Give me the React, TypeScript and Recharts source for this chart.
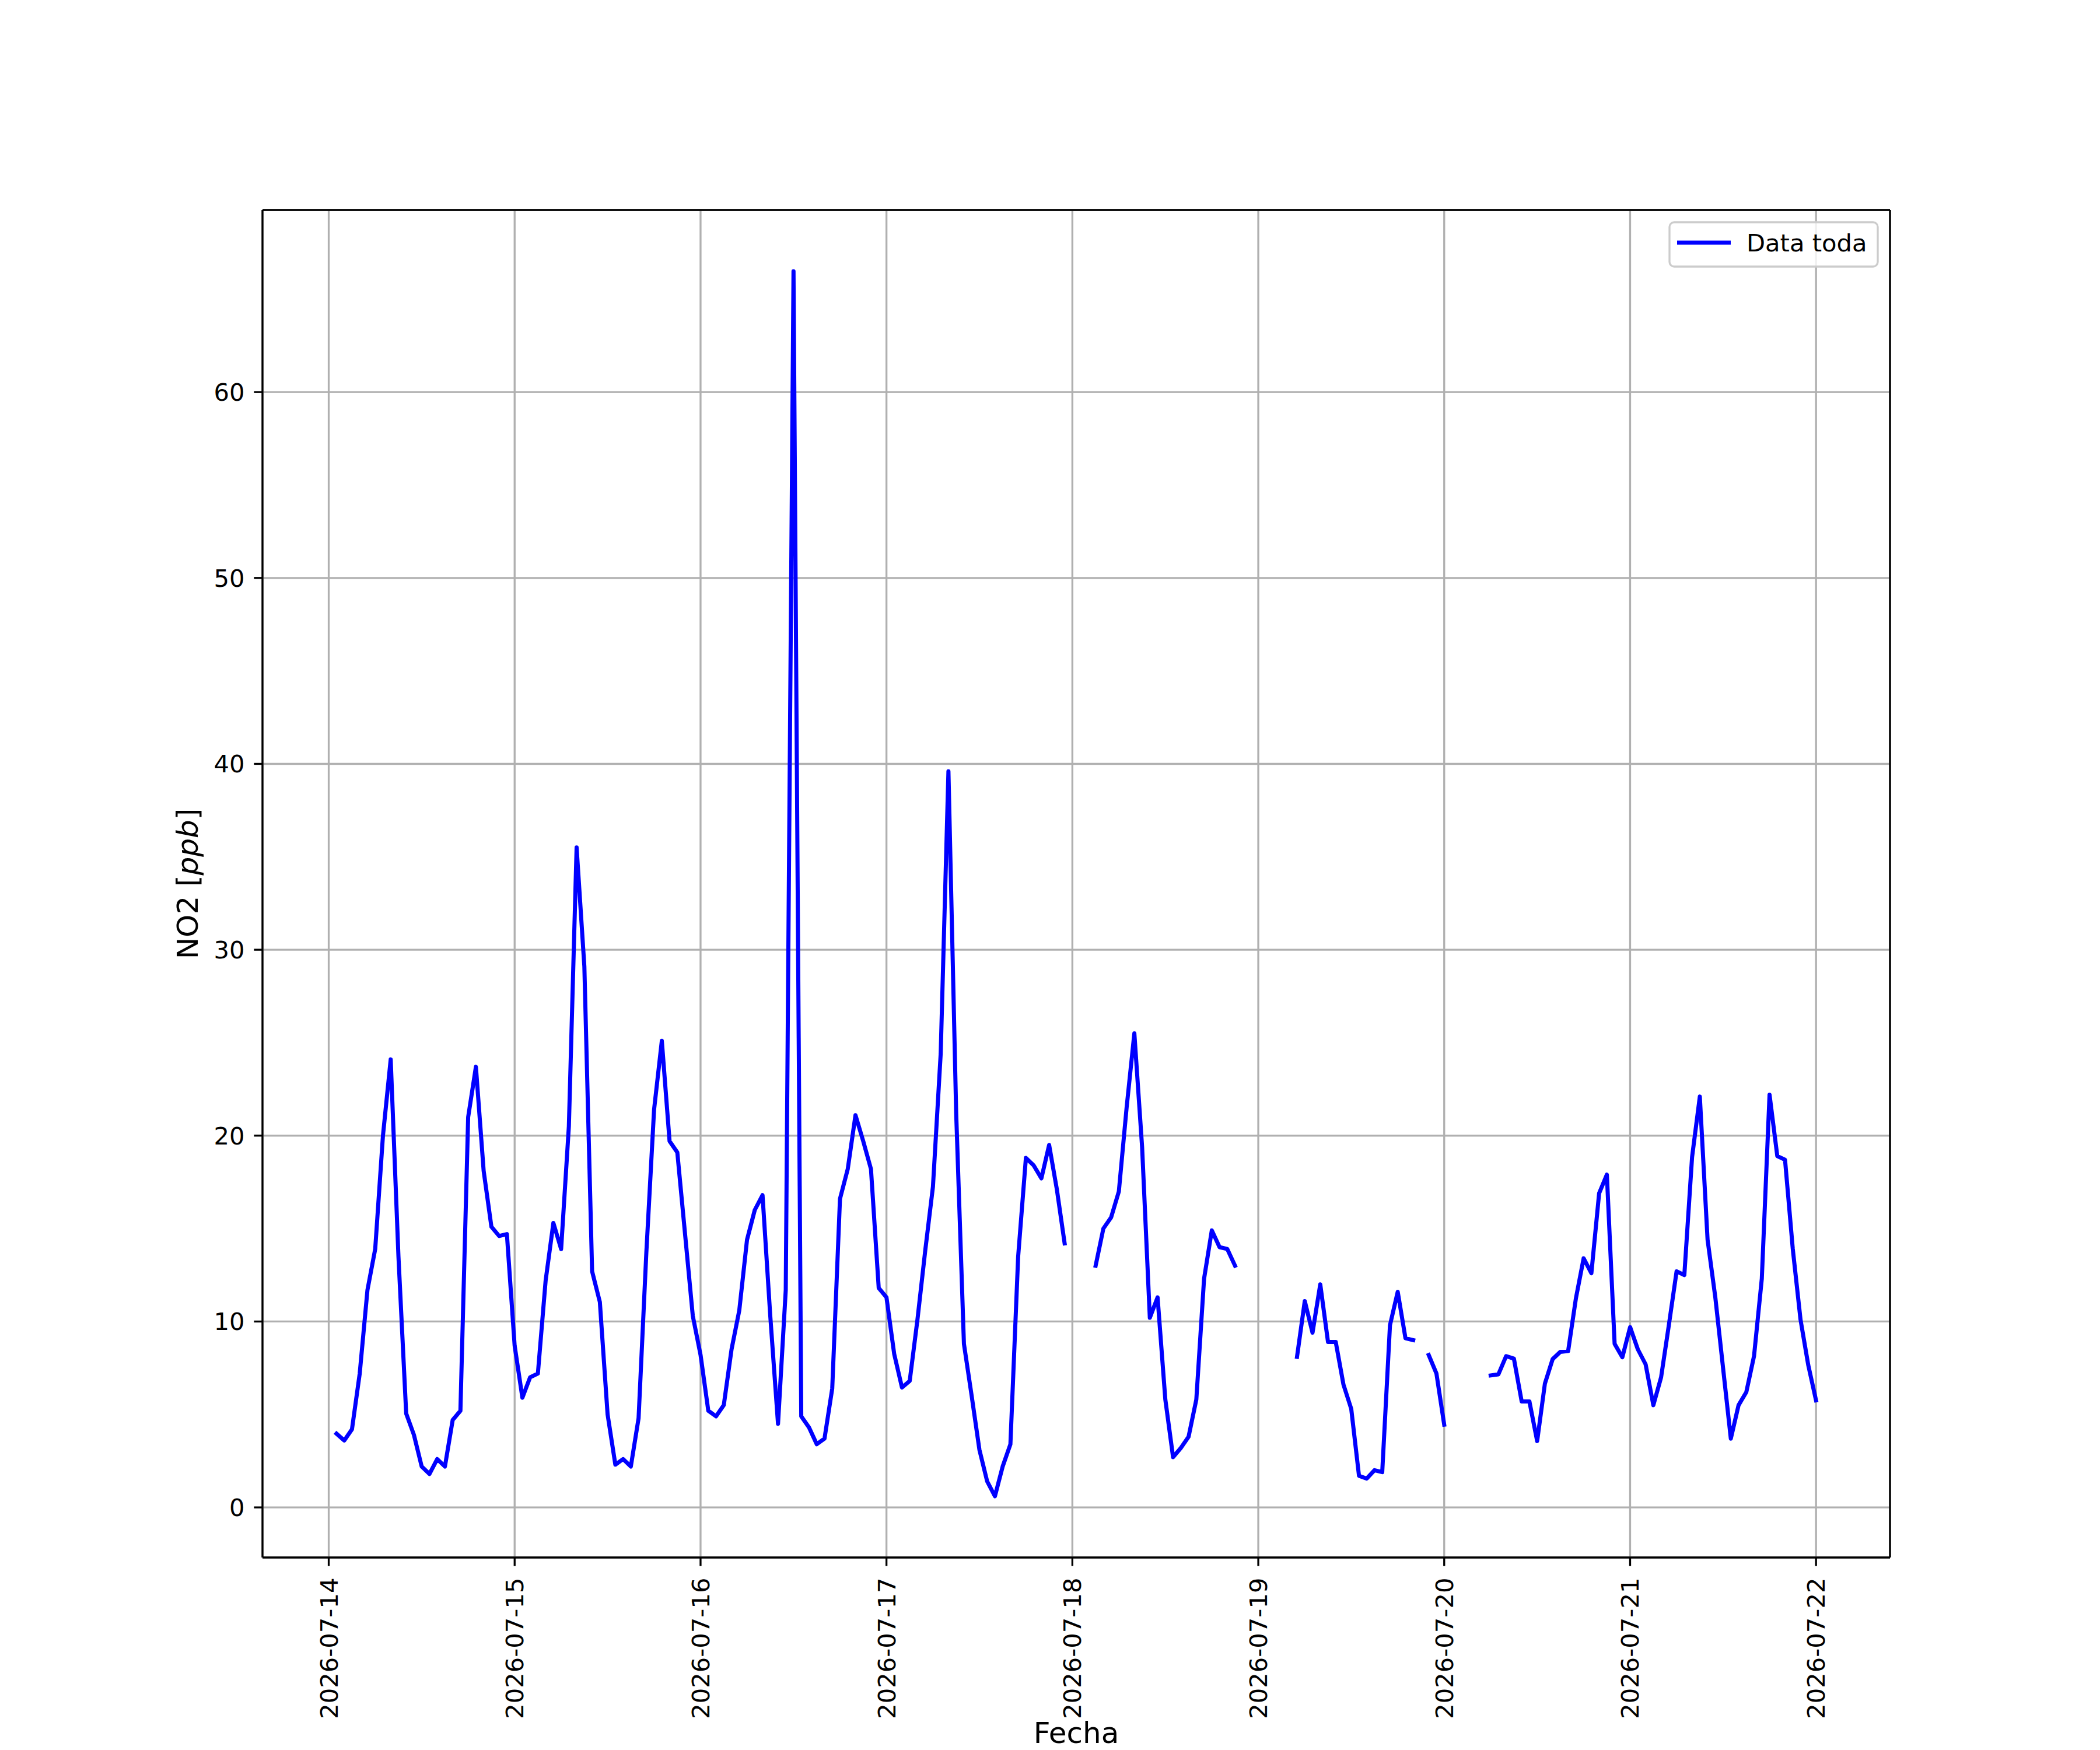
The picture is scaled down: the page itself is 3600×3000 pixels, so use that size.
import React from 'react';
import { LineChart, Line, XAxis, YAxis, CartesianGrid, Legend, Label } from 'recharts';

// ---- data (hourly NO2 values, hour 1 = 2026-07-14 01:00) ----
const dayLabels = [
  '2026-07-14', '2026-07-15', '2026-07-16', '2026-07-17', '2026-07-18',
  '2026-07-19', '2026-07-20', '2026-07-21', '2026-07-22',
];
const yTicks = [0, 10, 20, 30, 40, 50, 60];

const day14 = [3.97, 3.6, 4.2, 7.2, 11.7, 13.9, 20.0, 24.1, 13.5, 5.05, 3.9, 2.2, 1.8, 2.6, 2.2, 4.7, 5.2, 21.0, 23.7, 18.1, 15.1, 14.6, 14.7, 8.7];
const day15 = [5.9, 7.0, 7.2, 12.2, 15.3, 13.9, 20.5, 35.5, 29.1, 12.7, 11.05, 5.0, 2.3, 2.6, 2.2, 4.8, 13.7, 21.4, 25.1, 19.7, 19.1, 14.7, 10.3, 8.2];
const day16 = [5.2, 4.9, 5.5, 8.5, 10.6, 14.4, 16.0, 16.8, 10.3, 4.5, 11.7, 66.5, 4.9, 4.3, 3.4, 3.7, 6.4, 16.6, 18.2, 21.1, 19.7, 18.2, 11.8, 11.3];
const day17 = [8.25, 6.45, 6.8, 10.1, 13.8, 17.25, 24.4, 39.6, 21.2, 8.8, 6.0, 3.1, 1.4, 0.6, 2.2, 3.4, 13.5, 18.8, 18.4, 17.7, 19.5, 17.1, 14.2, null];
const day18 = [null, null, 13.0, 15.0, 15.6, 17.0, 21.5, 25.5, 19.4, 10.2, 11.3, 5.8, 2.7, 3.2, 3.8, 5.8, 12.3, 14.9, 14.0, 13.9, 13.0, null, null, null];
const day19 = [null, null, null, null, 8.1, 11.1, 9.4, 12.0, 8.9, 8.9, 6.6, 5.3, 1.7, 1.55, 2.0, 1.9, 9.8, 11.6, 9.1, 9.0, null, 8.2, 7.2, 4.45];
const day20 = [null, null, null, null, null, 7.1, 7.16, 8.14, 8.0, 5.7, 5.7, 3.57, 6.66, 7.98, 8.37, 8.41, 11.24, 13.4, 12.6, 16.9, 17.9, 8.8, 8.08, 9.7];
const day21 = [8.5, 7.7, 5.5, 7.0, 9.8, 12.7, 12.5, 18.85, 22.1, 14.4, 11.3, 7.5, 3.7, 5.5, 6.2, 8.15, 12.3, 22.2, 18.9, 18.7, 13.9, 10.1, 7.65, 5.76];

const no2: (number | null)[] = [...day14, ...day15, ...day16, ...day17, ...day18, ...day19, ...day20, ...day21];
const data = no2.map((v, i) => ({ h: i + 1, no2: v }));
const xTicks = dayLabels.map((_, i) => i * 24);

const FONT = 'DejaVu Sans';
const TICK_FS = 41.67;
const AX = { stroke: '#000', strokeWidth: 3.33 };
const X_DOMAIN: [number, number] = [-8.55, 201.55];
const Y_DOMAIN: [number, number] = [-2.695, 69.795];

function XTick(props: any) {
  const { x, y, payload } = props;
  const label = dayLabels[Math.round(payload.value / 24)];
  return (
    <g transform={`translate(${x},${y})`}>
      <text
        transform="rotate(-90)"
        textAnchor="end"
        x={0}
        y={0}
        dy="0.36em"
        fontFamily={FONT}
        fontSize={TICK_FS}
        fill="#000"
      >
        {label}
      </text>
    </g>
  );
}

function LegendBox() {
  return (
    <svg width={361} height={80} style={{ display: 'block' }}>
      <rect x={2} y={2} width={357} height={76} rx={8} ry={8} fill="#fff" fillOpacity={0.8} stroke="#cccccc" strokeWidth={3.33} />
      <line x1={15} x2={107} y1={37} y2={37} stroke="#0000ff" strokeWidth={7} />
      <text x={134} y={52} fontFamily={FONT} fontSize={TICK_FS} fill="#000">Data toda</text>
    </svg>
  );
}

function YTitle() {
  return (
    <text
      x={339}
      y={1515}
      transform="rotate(-90 339 1515)"
      textAnchor="middle"
      fontFamily={FONT}
      fontSize={50}
      fill="#000"
    >
      NO2 [<tspan fontStyle="italic">ppb</tspan>]
    </text>
  );
}

export default function App() {
  return (
    <div style={{ position: 'absolute', left: 0, top: 0, width: 3600, height: 3000, background: '#fff', fontFamily: FONT }}>
      <LineChart width={3600} height={3000} data={data} margin={{ top: 359, right: 359, bottom: 30, left: 150 }}>
        <CartesianGrid stroke="#b0b0b0" strokeWidth={3.33} />
        <XAxis
          dataKey="h"
          type="number"
          domain={X_DOMAIN}
          allowDataOverflow
          ticks={xTicks}
          interval={0}
          height={300}
          tickSize={14.6}
          tickMargin={20}
          tick={<XTick />}
          axisLine={AX}
          tickLine={AX}
        >
          <Label
            value="Fecha"
            position="insideBottom"
            offset={-18}
            style={{ fontFamily: FONT, fontSize: 50, fill: '#000' }}
          />
        </XAxis>
        <XAxis
          xAxisId="top"
          orientation="top"
          dataKey="h"
          type="number"
          domain={X_DOMAIN}
          allowDataOverflow
          height={1}
          tick={false}
          tickLine={false}
          axisLine={AX}
        />
        <YAxis
          type="number"
          domain={Y_DOMAIN}
          allowDataOverflow
          ticks={yTicks}
          interval={0}
          width={300}
          tickSize={14.6}
          tickMargin={16}
          tick={{ fontFamily: FONT, fontSize: TICK_FS, fill: '#000' }}
          axisLine={AX}
          tickLine={AX}
        >
          <Label content={<YTitle />} />
        </YAxis>
        <YAxis
          yAxisId="right"
          orientation="right"
          type="number"
          domain={Y_DOMAIN}
          allowDataOverflow
          width={1}
          tick={false}
          tickLine={false}
          axisLine={AX}
        />
        <Line
          type="linear"
          dataKey="no2"
          name="Data toda"
          stroke="#0000ff"
          strokeWidth={7}
          strokeLinejoin="round"
          strokeLinecap="square"
          dot={false}
          activeDot={false}
          connectNulls={false}
          isAnimationActive={false}
        />
        <Legend
          layout="vertical"
          align="center"
          verticalAlign="middle"
          wrapperStyle={{ left: 2860, top: 379, width: 361, height: 80 }}
          content={() => <LegendBox />}
        />
      </LineChart>
    </div>
  );
}
